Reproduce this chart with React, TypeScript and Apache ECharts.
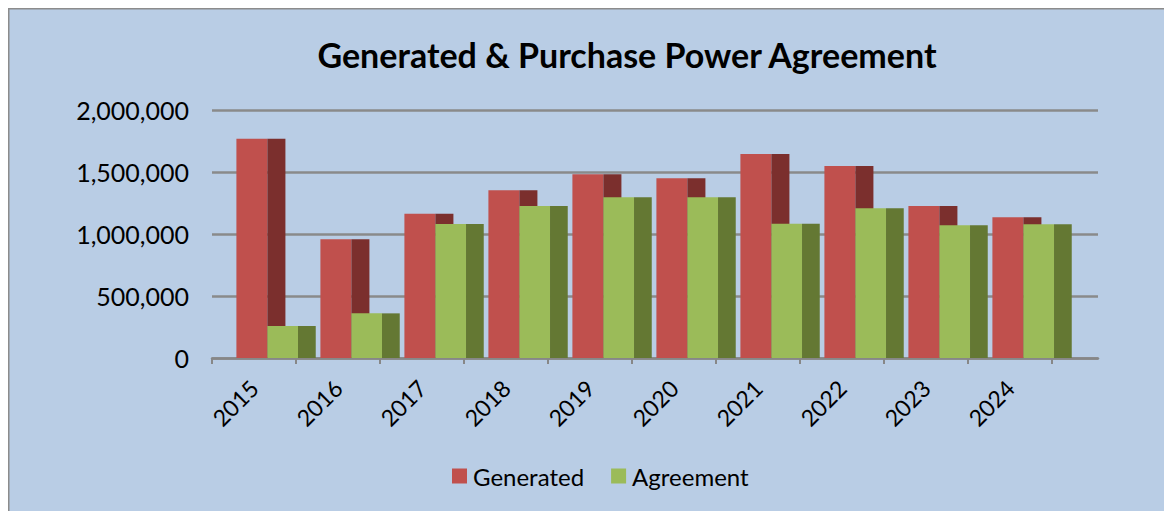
import React, { useEffect, useRef } from "react";
import * as echarts from "echarts";

const categories = ["2015", "2016", "2017", "2018", "2019", "2020", "2021", "2022", "2023", "2024"];
const generated = [1768000, 957000, 1164000, 1352000, 1481000, 1449000, 1645000, 1548000, 1226000, 1135000];
const agreement = [258000, 360000, 1081000, 1226000, 1296000, 1296000, 1083000, 1207000, 1070000, 1078000];
const yTicks = { min: 0, max: 2000000, interval: 500000 };

const FONT = "Lato";

function makeRender(a: number, b: number, c: number, front: string, side: string) {
  return (params: any, api: any) => {
    const i = api.value(0);
    const v = api.value(1);
    const top = api.coord([i, v]);
    const base = api.coord([i, 0]);
    const bw = api.size([1, 0])[0];
    const cx = top[0];
    const f0 = cx + bw * a;
    const f1 = cx + bw * b;
    const s1 = cx + bw * c;
    const h = base[1] - top[1];
    return {
      type: "group",
      children: [
        { type: "rect", shape: { x: f0, y: top[1], width: f1 - f0, height: h }, style: { fill: front } },
        { type: "rect", shape: { x: f1, y: top[1], width: s1 - f1, height: h }, style: { fill: side } },
      ],
    };
  };
}

export default function App() {
  const ref = useRef<HTMLDivElement>(null);
  useEffect(() => {
    const chart = echarts.init(ref.current!, null, { renderer: "svg" });
    const gridTop = 102;
    const gridBottom = 153;
    chart.setOption({
      animation: false,
      backgroundColor: "#b9cde5",
      title: {
        text: "Generated & Purchase Power Agreement",
        left: 614,
        top: 24,
        textAlign: "center",
        textStyle: { fontFamily: FONT, fontWeight: "bold", fontSize: 34, color: "#000" },
      },
      graphic: [
        {
          type: "rect",
          shape: { x: 0.75, y: 0.75, width: 1300, height: 700 },
          style: { fill: "none", stroke: "#8c8c8c", lineWidth: 1.5 },
          silent: true,
        },
      ],
      legend: {
        left: 439,
        top: 451,
        itemWidth: 15,
        itemHeight: 15,
        itemGap: 27,
        icon: "rect",
        textStyle: { fontFamily: FONT, fontSize: 24, color: "#000", padding: [0, 0, 0, 1] },
        data: ["Generated", "Agreement"],
      },
      grid: [
        { left: 204, right: 74, top: gridTop, bottom: gridBottom },
        { left: 204, right: 120, top: gridTop, bottom: gridBottom },
      ],
      xAxis: [
        {
          type: "value",
          gridIndex: 0,
          min: 0,
          max: 1,
          axisLine: { show: true, lineStyle: { color: "#878787", width: 2.5 } },
          axisTick: { show: false },
          axisLabel: { show: false },
          splitLine: { show: false },
        },
        {
          type: "category",
          gridIndex: 1,
          data: categories,
          axisLine: { show: false },
          axisTick: { show: true, length: 6, lineStyle: { color: "#878787", width: 2 } },
          axisLabel: { rotate: 45, margin: 26, fontFamily: FONT, fontSize: 23, color: "#000" },
        },
      ],
      yAxis: [
        {
          type: "value",
          gridIndex: 0,
          ...yTicks,
          axisLine: { show: false },
          axisTick: { show: false },
          axisLabel: {
            margin: 23,
            fontFamily: FONT,
            fontSize: 25,
            color: "#000",
            formatter: (v: number) => v.toLocaleString("en-US"),
          },
          splitLine: { lineStyle: { color: "#8a8a8a", width: 2.5 } },
        },
        {
          type: "value",
          gridIndex: 1,
          ...yTicks,
          show: false,
          splitLine: { show: false },
        },
      ],
      series: [
        {
          name: "Generated",
          type: "custom",
          xAxisIndex: 1,
          yAxisIndex: 1,
          itemStyle: { color: "#c0504d" },
          encode: { x: 0, y: 1 },
          data: generated.map((v, i) => [i, v]),
          renderItem: makeRender(-0.2095, 0.1595, 0.374, "#c0504d", "#7b2f2d"),
        },
        {
          name: "Agreement",
          type: "custom",
          xAxisIndex: 1,
          yAxisIndex: 1,
          itemStyle: { color: "#9bbb59" },
          encode: { x: 0, y: 1 },
          data: agreement.map((v, i) => [i, v]),
          renderItem: makeRender(0.1595, 0.524, 0.735, "#9bbb59", "#647833"),
        },
      ],
    });
    return () => chart.dispose();
  }, []);
  return <div ref={ref} style={{ width: 1164, height: 503 }} />;
}
